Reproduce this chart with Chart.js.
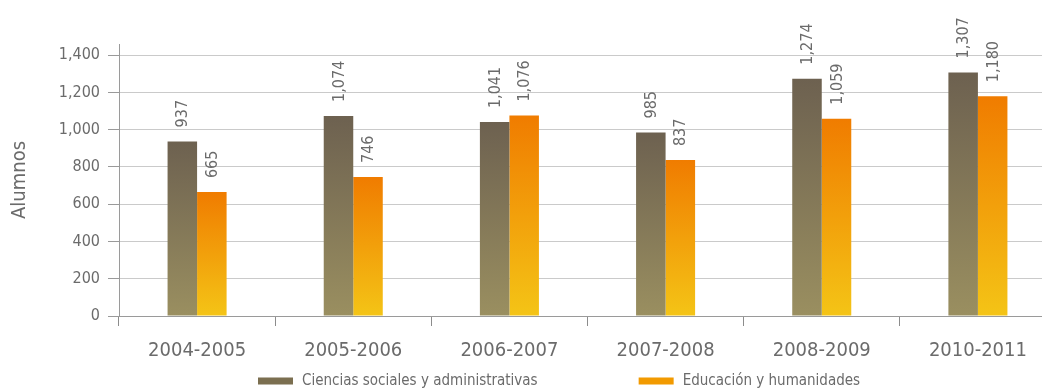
<!DOCTYPE html>
<html lang="es">
<head>
<meta charset="utf-8">
<title>Alumnos por área de conocimiento</title>
<script src="https://cdn.jsdelivr.net/npm/chart.js@4.4.1/dist/chart.umd.min.js"></script>
<style>
  html, body { margin: 0; padding: 0; background: #ffffff; overflow: hidden; }
  #wrap { position: relative; width: 1058px; height: 392px; }
</style>
</head>
<body>
<div id="wrap"><canvas id="chart"></canvas></div>
<script>
// Ciclos escolares
const categories = ['2004-2005', '2005-2006', '2006-2007', '2007-2008', '2008-2009', '2010-2011'];

// Alumnos por área
const cienciasSociales = [937, 1074, 1041, 985, 1274, 1307];
const educacionHumanidades = [665, 746, 1076, 837, 1059, 1180];

const seriesNames = ['Ciencias sociales y administrativas', 'Educación y humanidades'];

// Marcas del eje vertical
const yTickValues = [0, 200, 400, 600, 800, 1000, 1200, 1400];

const FONT = "'Liberation Sans Narrow', 'DejaVu Sans Condensed', 'Arial Narrow', sans-serif";
const TEXT_GRAY = '#6b6b6b';

const fmt = v => v.toLocaleString('en-US');

// Degradado vertical por barra: de la parte superior de la barra hasta la base
function barGradient(top, bottom) {
  return function (ctx) {
    const chart = ctx.chart;
    const area = chart.chartArea;
    if (!area || ctx.type !== 'data') return top;
    const y = chart.scales.y;
    const yTop = y.getPixelForValue(ctx.raw);
    const yBase = y.getPixelForValue(0);
    if (!isFinite(yTop) || Math.abs(yBase - yTop) < 1) return top;
    const g = chart.ctx.createLinearGradient(0, yTop, 0, yBase);
    g.addColorStop(0, top);
    g.addColorStop(1, bottom);
    return g;
  };
}

// Etiquetas de valor giradas sobre cada barra
const valueLabels = {
  id: 'valueLabels',
  afterDatasetsDraw(chart) {
    const ctx = chart.ctx;
    ctx.save();
    ctx.font = '16px ' + FONT;
    ctx.fillStyle = TEXT_GRAY;
    ctx.textAlign = 'left';
    ctx.textBaseline = 'middle';
    chart.data.datasets.forEach((ds, i) => {
      const meta = chart.getDatasetMeta(i);
      meta.data.forEach((bar, j) => {
        ctx.save();
        ctx.translate(bar.x, bar.y - 14);
        ctx.rotate(-Math.PI / 2);
        ctx.fillText(fmt(ds.data[j]), 0, 1);
        ctx.restore();
      });
    });
    ctx.restore();
  }
};

// Leyenda inferior
const bottomLegend = {
  id: 'bottomLegend',
  afterDraw(chart, args, opts) {
    const ctx = chart.ctx;
    ctx.save();
    ctx.font = '15px ' + FONT;
    ctx.textAlign = 'left';
    ctx.textBaseline = 'middle';
    let x = opts.x;
    const y = opts.y;
    chart.data.datasets.forEach(ds => {
      ctx.fillStyle = ds.legendColor;
      ctx.fillRect(x, y - 3.5, 35, 7);
      x += 44;
      ctx.fillStyle = TEXT_GRAY;
      ctx.fillText(ds.label, x, y);
      x += ctx.measureText(ds.label).width + 101;
    });
    ctx.restore();
  }
};

new Chart(document.getElementById('chart'), {
  type: 'bar',
  data: {
    labels: categories,
    datasets: [
      {
        label: seriesNames[0],
        data: cienciasSociales,
        backgroundColor: barGradient('#6d6150', '#9a8f60'),
        legendColor: '#7b6f50'
      },
      {
        label: seriesNames[1],
        data: educacionHumanidades,
        backgroundColor: barGradient('#f07c00', '#f4c416'),
        legendColor: '#f29a00'
      }
    ]
  },
  options: {
    responsive: true,
    maintainAspectRatio: false,
    animation: false,
    devicePixelRatio: 1,
    layout: { padding: { top: 44, right: 2, left: 0, bottom: 0 } },
    datasets: {
      bar: { categoryPercentage: 0.378, barPercentage: 1.0, borderWidth: 0 }
    },
    plugins: {
      legend: { display: false },
      tooltip: { enabled: false },
      bottomLegend: { x: 258, y: 381 }
    },
    scales: {
      x: {
        offset: true,
        grid: {
          display: true,
          offset: true,
          drawOnChartArea: false,
          drawTicks: true,
          tickLength: 10,
          tickColor: '#8c8c8c',
          color: '#8c8c8c'
        },
        border: { display: true, color: '#9a9a9a', width: 1 },
        ticks: {
          color: TEXT_GRAY,
          font: { family: FONT, size: 20 },
          padding: 13,
          maxRotation: 0,
          autoSkip: false
        },
        afterFit(scale) { scale.height = 76; }
      },
      y: {
        min: 0,
        max: 1460,
        afterBuildTicks(scale) {
          scale.ticks = yTickValues.map(v => ({ value: v }));
        },
        grid: {
          color: '#cacaca',
          lineWidth: 1,
          drawTicks: true,
          tickLength: 11,
          tickColor: '#9a9a9a'
        },
        border: { display: true, color: '#9a9a9a', width: 1 },
        ticks: {
          color: TEXT_GRAY,
          font: { family: FONT, size: 16 },
          padding: 8,
          callback: v => fmt(v)
        },
        title: {
          display: true,
          text: 'Alumnos',
          color: TEXT_GRAY,
          font: { family: FONT, size: 20 },
          padding: { top: 8, bottom: 0 }
        },
        afterFit(scale) { scale.width = 119; }
      }
    }
  },
  plugins: [valueLabels, bottomLegend]
});
</script>
</body>
</html>
